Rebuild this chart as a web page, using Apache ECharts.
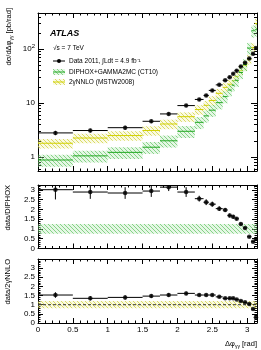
<!DOCTYPE html>
<html>
<head>
<meta charset="utf-8">
<script src="https://cdn.jsdelivr.net/npm/echarts@6/dist/echarts.min.js"></script>
<style>
  html, body { margin: 0; padding: 0; background: #fff; }
  #chart { width: 261px; height: 350px; }
</style>
</head>
<body>
<div id="chart"></div>
<script>
// bin edges in delta phi (rad)
const binEdges = [0, 0.5, 1.0, 1.5, 1.75, 2.0, 2.25, 2.375, 2.45, 2.55, 2.65, 2.72, 2.78, 2.82, 2.88, 2.94, 3.0, 3.06, 3.11, Math.PI]
// top panel: cross sections [pb/rad]
const dataXs = [2.8, 3.1, 3.5, 4.6, 6.3, 9.0, 11.7, 13.9, 17.2, 21.8, 26.5, 30.3, 35, 40, 48, 56, 67, 82, 105]
const dataErr = [0.25, 0.25, 0.3, 0.35, 0.45, 0.6, 0.8, 0.9, 1.1, 1.3, 1.6, 1.8, 2.1, 2.4, 2.9, 3.4, 4, 5, 7]
const diphoxXs = [0.88, 1.05, 1.22, 1.52, 2.0, 3.0, 4.4, 5.8, 7.4, 10.2, 13.2, 17.5, 21.5, 26.5, 37, 52, 105, 220, 230]
const nnloXs = [1.8, 2.25, 2.5, 3.1, 4.1, 5.6, 7.6, 9.1, 11.2, 15.2, 19.6, 22.4, 26, 31, 40, 50, 65, 108, 300]
// relative theory bands [low, high]
const diphoxBand = [0.75, 1.25]
const nnloBand = [0.8, 1.2]
// ratio panels
const ratioDiphox = [3.01, 2.89, 2.84, 2.94, 3.14, 2.89, 2.55, 2.37, 2.27, 2.04, 1.97, 1.69, 1.62, 1.52, 1.25, 1.05, 0.6, 0.35, 0.48]
const ratioDiphoxErr = [0.5, 0.35, 0.3, 0.3, 0.2, 0.25, 0.15, 0.15, 0.13, 0.12, 0.1, 0.1, 0.1, 0.08, 0.08, 0.06, 0.05, 0.04, 0.05]
const ratioNnlo = [1.53, 1.35, 1.40, 1.47, 1.53, 1.62, 1.53, 1.53, 1.53, 1.43, 1.35, 1.35, 1.35, 1.29, 1.2, 1.13, 1.04, 0.76, 0.31]
const ratioNnloErr = [0.15, 0.12, 0.12, 0.1, 0.1, 0.1, 0.08, 0.08, 0.07, 0.07, 0.06, 0.06, 0.06, 0.05, 0.05, 0.05, 0.04, 0.04, 0.05]

const FONT = 'Liberation Sans, Arial, sans-serif'

function hatch (line, bg) {
  const c = document.createElement('canvas')
  c.width = 4
  c.height = 4
  const g = c.getContext('2d')
  g.fillStyle = bg
  g.fillRect(0, 0, 4, 4)
  g.strokeStyle = line
  g.lineWidth = 1
  g.beginPath()
  g.moveTo(-1, -1); g.lineTo(5, 5)
  g.moveTo(-1, 3); g.lineTo(1, 5)
  g.moveTo(3, -1); g.lineTo(5, 1)
  g.stroke()
  return { image: c, repeat: 'repeat' }
}
const greenHatch = hatch('rgba(70,185,70,0.6)', 'rgba(170,230,170,0.3)')
const yellowHatch = hatch('rgba(205,205,50,0.7)', 'rgba(240,240,160,0.3)')

function clampY (y, cs) {
  return Math.max(cs.y, Math.min(cs.y + cs.height, y))
}

// band: [lo, hi, bandLo, bandHi, central]
function makeBand (fill, lineColor) {
  return function (params, api) {
    const cs = params.coordSys
    const a = api.coord([api.value(0), api.value(2)])
    const b = api.coord([api.value(1), api.value(3)])
    const m1 = api.coord([api.value(0), api.value(4)])
    const m2 = api.coord([api.value(1), api.value(4)])
    const y1 = clampY(b[1], cs)
    const y2 = clampY(a[1], cs)
    const children = [{
      type: 'rect',
      shape: { x: a[0], y: y1, width: b[0] - a[0], height: y2 - y1 },
      style: { fill: fill }
    }]
    if (lineColor) {
      children.push({
        type: 'line',
        shape: { x1: m1[0], y1: m1[1], x2: m2[0], y2: m2[1] },
        style: { stroke: lineColor, lineWidth: 1 }
      })
    }
    return { type: 'group', children: children }
  }
}

// error bar: [lo, hi, x, y, yLow, yHigh]
function errBar (params, api) {
  const cs = params.coordSys
  const l = api.coord([api.value(0), api.value(3)])
  const r = api.coord([api.value(1), api.value(3)])
  const lo = api.coord([api.value(2), api.value(4)])
  const hi = api.coord([api.value(2), api.value(5)])
  return {
    type: 'group',
    children: [
      { type: 'line', shape: { x1: l[0], y1: l[1], x2: r[0], y2: r[1] }, style: { stroke: '#000', lineWidth: 1 } },
      { type: 'line', shape: { x1: lo[0], y1: clampY(lo[1], cs), x2: hi[0], y2: clampY(hi[1], cs) }, style: { stroke: '#000', lineWidth: 1 } }
    ]
  }
}

const centers = dataXs.map((v, i) => (binEdges[i] + binEdges[i + 1]) / 2)

const topBandDip = diphoxXs.map((v, i) => [binEdges[i], binEdges[i + 1], v * diphoxBand[0], v * diphoxBand[1], v])
const topBandNnlo = nnloXs.map((v, i) => [binEdges[i], binEdges[i + 1], v * nnloBand[0], v * nnloBand[1], v])
const topErr = dataXs.map((v, i) => [binEdges[i], binEdges[i + 1], centers[i], v, v - dataErr[i], v + dataErr[i]])
const midErr = ratioDiphox.map((v, i) => [binEdges[i], binEdges[i + 1], centers[i], v, v - ratioDiphoxErr[i], v + ratioDiphoxErr[i]])
const botErr = ratioNnlo.map((v, i) => [binEdges[i], binEdges[i + 1], centers[i], v, v - ratioNnloErr[i], v + ratioNnloErr[i]])
const nBins = dataXs.length

const tickStyle = { color: '#000', width: 1 }

function xAx (grid, pos, labels) {
  return {
    type: 'value',
    gridIndex: grid,
    position: pos,
    min: 0,
    max: Math.PI,
    interval: 0.5,
    axisLine: { show: true, onZero: false, lineStyle: tickStyle },
    axisTick: { show: true, inside: true, length: 5, lineStyle: tickStyle },
    minorTick: { show: true, splitNumber: 5, length: 2.5, lineStyle: tickStyle },
    axisLabel: { show: labels, showMaxLabel: false, fontSize: 8, color: '#000', margin: 3, fontFamily: FONT },
    splitLine: { show: false }
  }
}

function yRatio (grid, pos, max, labels) {
  return {
    type: 'value',
    gridIndex: grid,
    position: pos,
    min: 0,
    max: max,
    interval: 0.5,
    axisLine: { show: true, onZero: false, lineStyle: tickStyle },
    axisTick: { show: true, inside: true, length: 5, lineStyle: tickStyle },
    minorTick: { show: true, splitNumber: 5, length: 2.5, lineStyle: tickStyle },
    axisLabel: { show: labels, showMaxLabel: false, fontSize: 8, color: '#000', margin: 3, fontFamily: FONT },
    splitLine: { show: false }
  }
}

function yLog (pos, labels) {
  return {
    type: 'log',
    logBase: 10,
    gridIndex: 0,
    position: pos,
    min: 0.55,
    max: 470,
    axisLine: { show: true, onZero: false, lineStyle: tickStyle },
    axisTick: { show: true, inside: true, length: 6, lineStyle: tickStyle },
    minorTick: { show: true, splitNumber: 9, length: 3, lineStyle: tickStyle },
    axisLabel: {
      show: labels,
      showMinLabel: false,
      showMaxLabel: false,
      fontSize: 8,
      color: '#000',
      margin: 3,
      fontFamily: FONT,
      formatter: v => (Math.abs(v - 100) < 1 ? '10{s|2}' : String(Math.round(v))),
      rich: { s: { fontSize: 6, fontFamily: FONT, color: '#000', padding: [0, 0, 5, 0] } }
    },
    splitLine: { show: false }
  }
}

const chart = echarts.init(document.getElementById('chart'), null, { renderer: 'canvas' })

const option = {
  animation: false,
  backgroundColor: '#fff',
  grid: [
    { left: 38, right: 4, top: 13, height: 158 },
    { left: 38, right: 4, top: 185, height: 63.5 },
    { left: 38, right: 4, top: 259, height: 64 }
  ],
  xAxis: [
    xAx(0, 'bottom', false), xAx(1, 'bottom', false), xAx(2, 'bottom', true),
    xAx(0, 'top', false), xAx(1, 'top', false), xAx(2, 'top', false)
  ],
  yAxis: [
    yLog('left', true), yRatio(1, 'left', 3.25, true), yRatio(2, 'left', 3.5, true),
    yLog('right', false), yRatio(1, 'right', 3.25, false), yRatio(2, 'right', 3.5, false)
  ],
  series: [
    { type: 'custom', xAxisIndex: 0, yAxisIndex: 0, renderItem: makeBand(yellowHatch, '#d2d200'), data: topBandNnlo, encode: { x: [0, 1], y: [2, 3] }, z: 2 },
    { type: 'custom', xAxisIndex: 0, yAxisIndex: 0, renderItem: makeBand(greenHatch, '#22a822'), data: topBandDip, encode: { x: [0, 1], y: [2, 3] }, z: 3 },
    { type: 'custom', xAxisIndex: 0, yAxisIndex: 0, renderItem: errBar, data: topErr, encode: { x: [0, 1], y: [4, 5] }, z: 4 },
    { type: 'scatter', xAxisIndex: 0, yAxisIndex: 0, symbol: 'circle', symbolSize: 4.5, itemStyle: { color: '#000' }, data: dataXs.map((v, i) => [centers[i], v]), z: 5 },

    { type: 'custom', xAxisIndex: 1, yAxisIndex: 1, renderItem: makeBand(greenHatch, null), data: [[binEdges[0], binEdges[nBins], diphoxBand[0], diphoxBand[1], 1]], encode: { x: [0, 1], y: [2, 3] }, z: 2 },
    { type: 'custom', xAxisIndex: 1, yAxisIndex: 1, renderItem: errBar, data: midErr, encode: { x: [0, 1], y: [3] }, z: 4 },
    { type: 'scatter', xAxisIndex: 1, yAxisIndex: 1, symbol: 'circle', symbolSize: 4.5, itemStyle: { color: '#000' }, data: ratioDiphox.map((v, i) => [centers[i], v]), z: 5 },

    { type: 'custom', xAxisIndex: 2, yAxisIndex: 2, renderItem: makeBand(yellowHatch, null), data: [[binEdges[0], binEdges[nBins], nnloBand[0], nnloBand[1], 1]], encode: { x: [0, 1], y: [2, 3] }, z: 2 },
    {
      type: 'line', xAxisIndex: 2, yAxisIndex: 2, symbol: 'none', z: 3,
      lineStyle: { color: '#333', width: 1, type: [3, 2] },
      data: [[binEdges[0], 1], [binEdges[nBins], 1]]
    },
    { type: 'custom', xAxisIndex: 2, yAxisIndex: 2, renderItem: errBar, data: botErr, encode: { x: [0, 1], y: [3] }, z: 4 },
    { type: 'scatter', xAxisIndex: 2, yAxisIndex: 2, symbol: 'circle', symbolSize: 4.5, itemStyle: { color: '#000' }, data: ratioNnlo.map((v, i) => [centers[i], v]), z: 5 }
  ],
  graphic: [
    // axis titles
    {
      type: 'text', x: 9, y: 8, rotation: Math.PI / 2,
      style: {
        text: 'dσ/dΔφ{s|γγ} [pb/rad]', align: 'right', verticalAlign: 'middle', fontSize: 7.5, fontFamily: FONT, fill: '#000',
        rich: { s: { fontSize: 5, fontFamily: FONT, padding: [5, 0, 0, 0] } }
      }
    },
    {
      type: 'text', x: 8, y: 185, rotation: Math.PI / 2,
      style: { text: 'data/DIPHOX', align: 'right', verticalAlign: 'middle', fontSize: 7.5, fontFamily: FONT, fill: '#000' }
    },
    {
      type: 'text', x: 8, y: 259, rotation: Math.PI / 2,
      style: {
        text: 'data/2γNNLO', align: 'right', verticalAlign: 'middle', fontSize: 7.5, fontFamily: FONT, fill: '#000'
      }
    },
    {
      type: 'text', x: 257, y: 344,
      style: {
        text: 'Δφ{s|γγ} [rad]', align: 'right', verticalAlign: 'middle', fontSize: 7.5, fontFamily: FONT, fill: '#000',
        rich: { s: { fontSize: 5, fontFamily: FONT, padding: [5, 0, 0, 0] } }
      }
    },
    // legend
    { type: 'text', x: 50, y: 34, style: { text: 'ATLAS', fontSize: 9, fontWeight: 'bold', fontStyle: 'italic', fontFamily: FONT, fill: '#000', verticalAlign: 'middle' } },
    { type: 'text', x: 53, y: 48, style: { text: '√s = 7 TeV', fontSize: 6.5, fontFamily: FONT, fill: '#000', verticalAlign: 'middle' } },
    { type: 'line', shape: { x1: 53, y1: 61, x2: 65, y2: 61 }, style: { stroke: '#000', lineWidth: 1 } },
    { type: 'circle', shape: { cx: 59, cy: 61, r: 2 }, style: { fill: '#000' } },
    { type: 'text', x: 69, y: 61, style: { text: 'Data 2011, ∫Ldt = 4.9 fb⁻¹', fontSize: 6.5, fontFamily: FONT, fill: '#000', verticalAlign: 'middle' } },
    { type: 'rect', shape: { x: 53, y: 69, width: 12, height: 6 }, style: { fill: greenHatch } },
    { type: 'line', shape: { x1: 53, y1: 72, x2: 65, y2: 72 }, style: { stroke: '#22a822', lineWidth: 1 } },
    { type: 'text', x: 69, y: 72, style: { text: 'DIPHOX+GAMMA2MC (CT10)', fontSize: 6.5, fontFamily: FONT, fill: '#000', verticalAlign: 'middle' } },
    { type: 'rect', shape: { x: 53, y: 79, width: 12, height: 6 }, style: { fill: yellowHatch } },
    { type: 'line', shape: { x1: 53, y1: 82, x2: 65, y2: 82 }, style: { stroke: '#d2d200', lineWidth: 1 } },
    { type: 'text', x: 69, y: 82, style: { text: '2γNNLO (MSTW2008)', fontSize: 6.5, fontFamily: FONT, fill: '#000', verticalAlign: 'middle' } }
  ]
}

chart.setOption(option)
</script>
</body>
</html>
